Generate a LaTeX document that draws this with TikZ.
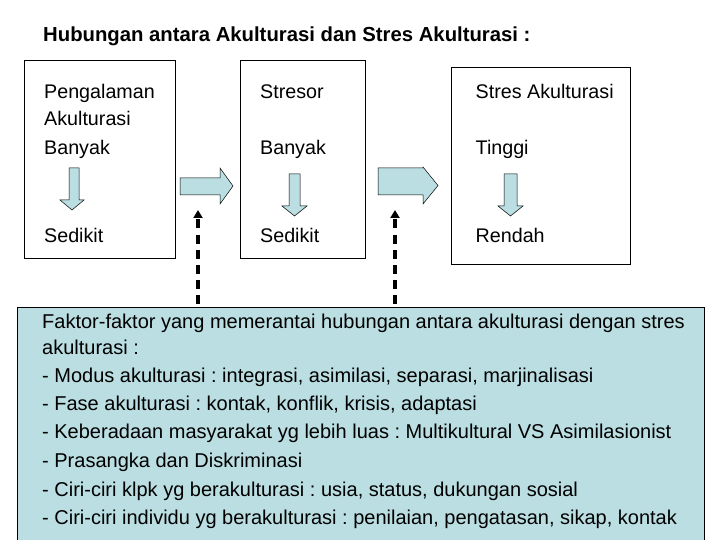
\documentclass[tikz,border=0pt]{standalone}
\usepackage{fontspec}
\setmainfont{Liberation Sans}
\usetikzlibrary{arrows.meta}
\definecolor{pale}{HTML}{BADEE2}
\frenchspacing
\tikzset{
  frame/.style={draw=black, line width=0.9pt},
  boxtxt/.style={anchor=base west, inner sep=0pt, font=\fontsize{19.7}{22}\selectfont},
  bottxt/.style={anchor=base west, inner sep=0pt, font=\fontsize{20}{23}\selectfont},
  blockarrow/.style={draw=black, line width=0.5pt, fill=pale},
  dasharrow/.style={line width=3.5pt, dash pattern=on 9pt off 6pt, -{Triangle[length=8pt,width=9pt]}}
}
\begin{document}
\begin{tikzpicture}[x=1pt,y=-1pt]
\useasboundingbox (0,0) rectangle (720,540);
% title
\node[anchor=base west, inner sep=0pt, font=\bfseries\fontsize{20.3}{24}\selectfont] (title) at (43,41.5) {Hubungan antara Akulturasi dan Stres Akulturasi :};
% boxes
\draw[frame] (24,60) rectangle (175,258);
\draw[frame] (240,60) rectangle (365,258);
\draw[frame] (451,67) rectangle (630,264);
% box texts
\node[boxtxt] (p1) at (44,99) {Pengalaman};
\node[boxtxt] (p2) at (44,126) {Akulturasi};
\node[boxtxt] (p3) at (44,155) {Banyak};
\node[boxtxt] (p4) at (44,243) {Sedikit};
\node[boxtxt] (s1) at (260,99) {Stresor};
\node[boxtxt] (s2) at (260,155) {Banyak};
\node[boxtxt] (s3) at (260,243) {Sedikit};
\node[boxtxt] (t1) at (475.5,99) {Stres Akulturasi};
\node[boxtxt] (t2) at (475.5,155) {Tinggi};
\node[boxtxt] (t3) at (475.5,242) {Rendah};
% down arrows
\draw[blockarrow] (69,168) -- (79,168) -- (79,200) -- (84,200) -- (72,210) -- (60,200) -- (69,200) -- cycle;
\draw[blockarrow] (289,174) -- (300,174) -- (300,206) -- (307,206) -- (294.5,216) -- (282,206) -- (289,206) -- cycle;
\draw[blockarrow] (504,174) -- (517,174) -- (517,206) -- (523,206) -- (510.5,216) -- (498,206) -- (504,206) -- cycle;
% right arrows
\draw[blockarrow] (180,178) -- (220,178) -- (220,168) -- (233,186) -- (220,204) -- (220,195) -- (180,195) -- cycle;
\draw[blockarrow] (378,168) -- (423,168) -- (423,167) -- (438,185.5) -- (423,204) -- (423,195) -- (378,195) -- cycle;
% bottom box
\node[draw=black, line width=0.9pt, fill=pale, minimum width=687pt, minimum height=240pt, anchor=north west, inner sep=0pt] (fac) at (16.5,306.5) {};
\node[bottxt] (f1) at (42,328) {Faktor-faktor yang memerantai hubungan antara akulturasi dengan stres};
\node[bottxt] (f2) at (42,354.5) {akulturasi :};
\node[bottxt] (f3) at (42,382) {- Modus akulturasi : integrasi, asimilasi, separasi, marjinalisasi};
\node[bottxt] (f4) at (42,410.5) {- Fase akulturasi : kontak, konflik, krisis, adaptasi};
\node[bottxt] (f5) at (42,438.5) {- Keberadaan masyarakat yg lebih luas : Multikultural VS Asimilasionist};
\node[bottxt] (f6) at (42,467.5) {- Prasangka dan Diskriminasi};
\node[bottxt] (f7) at (42,496) {- Ciri-ciri klpk yg berakulturasi : usia, status, dukungan sosial};
\node[bottxt] (f8) at (42,524) {- Ciri-ciri individu yg berakulturasi : penilaian, pengatasan, sikap, kontak};
% dashed arrows
\coordinate (d1) at (198,210);
\coordinate (d2) at (395,210);
\draw[dasharrow] (fac.north -| d1) ++(0,-3) -- (d1);
\draw[dasharrow] (fac.north -| d2) ++(0,-3) -- (d2);
\end{tikzpicture}
\end{document}
